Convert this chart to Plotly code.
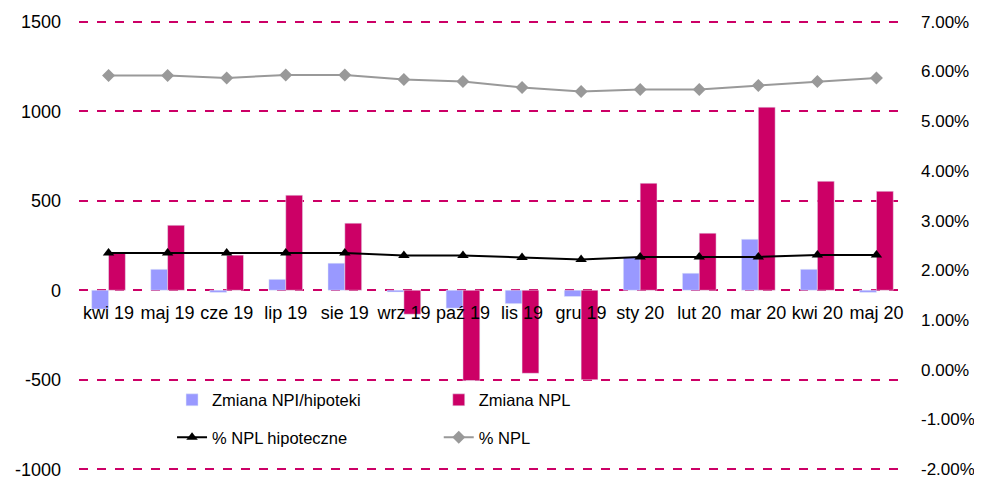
import plotly.graph_objects as go

months = ['kwi 19', 'maj 19', 'cze 19', 'lip 19', 'sie 19', 'wrz 19', 'paź 19',
          'lis 19', 'gru 19', 'sty 20', 'lut 20', 'mar 20', 'kwi 20', 'maj 20']

zmiana_npl_hip = [-105, 117, -12, 61, 151, -10, -100, -75, -35, 184, 95, 285, 117, -12]
zmiana_npl = [212, 363, 196, 531, 375, -134, -505, -464, -500, 598, 319, 1023, 609, 553]

npl_hip_pct = [2.35, 2.35, 2.35, 2.35, 2.35, 2.30, 2.30, 2.26, 2.22, 2.27, 2.27, 2.27, 2.31, 2.31]
npl_pct = [5.92, 5.92, 5.87, 5.93, 5.93, 5.84, 5.80, 5.68, 5.60, 5.64, 5.64, 5.72, 5.80, 5.87]

left_ticks = [-1000, -500, 0, 500, 1000, 1500]
right_ticks = [-2, -1, 0, 1, 2, 3, 4, 5, 6, 7]

pink = '#CC0066'
lav = '#9999FF'
font = 'Liberation Sans, Arial, sans-serif'
fs = 16.5
tfs = 18

fig = go.Figure()
fig.add_trace(go.Bar(x=months, y=zmiana_npl_hip, name='Zmiana NPI/hipoteki',
                     marker_color=lav, legend='legend', legendgroup='a'))
fig.add_trace(go.Bar(x=months, y=zmiana_npl, name='Zmiana NPL',
                     marker_color=pink, legend='legend2', legendgroup='b'))
fig.add_trace(go.Scatter(x=months, y=npl_hip_pct, name='% NPL hipoteczne', yaxis='y2',
                         mode='lines+markers', line=dict(color='black', width=2),
                         marker=dict(symbol='triangle-up', size=10, color='black'),
                         legend='legend', legendgroup='c'))
fig.add_trace(go.Scatter(x=months, y=npl_pct, name='% NPL', yaxis='y2',
                         mode='lines+markers', line=dict(color='#999999', width=2),
                         marker=dict(symbol='diamond', size=10, color='#999999'),
                         legend='legend2', legendgroup='d'))

# pad the ranges a little so the edge gridlines are still drawn
pad = 10
# page body has an 8px default margin, so the figure is 8px smaller
fig.update_layout(
    width=974, height=471,
    margin=dict(l=71, r=76, t=12, b=8),
    plot_bgcolor='white', paper_bgcolor='white',
    font=dict(family=font, size=fs, color='black'),
    barmode='group', bargap=0.43, bargroupgap=0,
    xaxis=dict(anchor='free', position=(0 - (-1000 - pad)) / (2500 + 2 * pad),
               range=[-0.5, len(months) - 0.5],
               showline=False, showgrid=False, automargin=False,
               ticks='', ticklabelstandoff=10, tickfont=dict(size=tfs)),
    yaxis=dict(range=[-1000 - pad, 1500 + pad], tickvals=left_ticks,
               ticktext=[str(v) for v in left_ticks], automargin=False,
               tickfont=dict(size=tfs), ticklabeloverflow='allow',
               showgrid=True, gridcolor=pink, griddash='dash', gridwidth=1.5,
               zeroline=False, showline=False, ticklabelstandoff=17),
    yaxis2=dict(overlaying='y', side='right',
                range=[-2 - pad * 9 / 2500, 7 + pad * 9 / 2500],
                tickvals=right_ticks, ticktext=['%.2f%%' % v for v in right_ticks],
                tickfont=dict(size=17), ticklabeloverflow='allow',
                showgrid=False, zeroline=False, automargin=False,
                showline=False, ticklabelstandoff=14),
    legend=dict(x=0.1125, y=0.196, xanchor='left', yanchor='top', tracegroupgap=13,
                bgcolor='rgba(0,0,0,0)', font=dict(size=fs)),
    legend2=dict(x=0.435, y=0.196, xanchor='left', yanchor='top', tracegroupgap=13,
                 bgcolor='rgba(0,0,0,0)', font=dict(size=fs)),
)

fig.write_html('out.html')
